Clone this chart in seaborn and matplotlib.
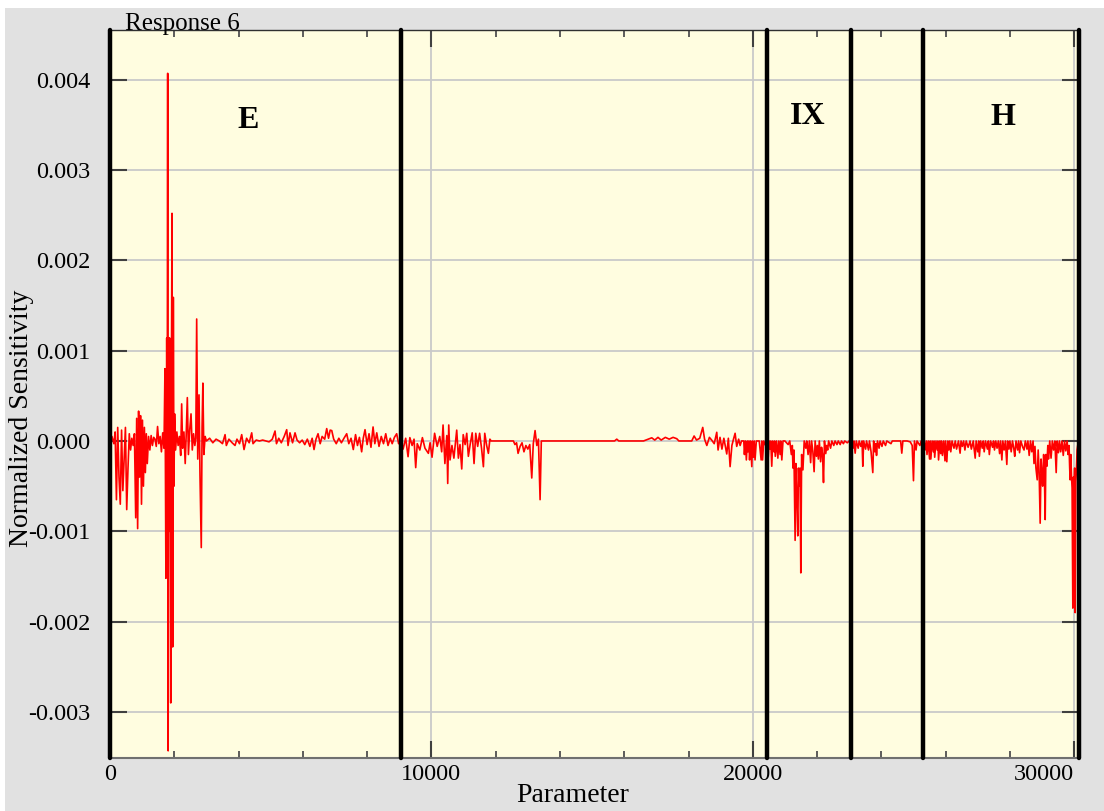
import numpy as np
import pandas as pd
import matplotlib
matplotlib.use("Agg")
import matplotlib.pyplot as plt
from matplotlib.patches import Rectangle
from matplotlib.ticker import MultipleLocator, FixedLocator
import seaborn as sns

# ---------------- data (parameter index, normalized sensitivity) ----------------
zone_E = [
    (0, 0.0), (60, 0.5e-4), (120, -0.3e-4), (160, 1.0e-4), (200, -6.5e-4), (240, 1.5e-4),
    (280, -4.0e-4), (320, -7.0e-4), (360, 1.2e-4), (400, -5.5e-4), (440, -2.0e-4), (480, 1.5e-4),
    (520, -7.6e-4), (560, -3.0e-4), (600, 0.8e-4), (640, -1.0e-4), (680, 0.3e-4), (720, -0.5e-4),
    (760, 0.8e-4), (800, -8.5e-4), (830, 2.5e-4), (860, -9.7e-4), (890, 3.3e-4), (920, -4.0e-4),
    (950, 2.8e-4), (980, -7.0e-4), (1010, 2.3e-4), (1040, -5.0e-4), (1070, 1.5e-4), (1100, -3.5e-4),
    (1130, 0.8e-4), (1160, -2.5e-4), (1200, 0.5e-4), (1240, -1.0e-4), (1280, 0.6e-4), (1320, -0.5e-4),
    (1360, 0.4e-4), (1400, 0.2e-4), (1440, -0.6e-4), (1480, 1.6e-4), (1520, -0.3e-4), (1560, 0.5e-4),
    (1600, -1.2e-4), (1640, 0.9e-4), (1680, -0.8e-4), (1710, 8.0e-4), (1740, -15.2e-4), (1765, 11.4e-4),
    (1780, -3.0e-4), (1795, 40.7e-4), (1810, -34.3e-4), (1825, 11.4e-4), (1840, -10.0e-4), (1855, 11.4e-4),
    (1870, 2.0e-4), (1890, -29.0e-4), (1910, 6.0e-4), (1930, 25.2e-4), (1950, -22.8e-4), (1970, 15.9e-4),
    (1990, -5.0e-4), (2010, 3.0e-4), (2040, -1.0e-4), (2080, 1.0e-4), (2120, -0.5e-4), (2160, 0.5e-4),
    (2200, -1.6e-4), (2230, 4.1e-4), (2260, -0.8e-4), (2300, 1.0e-4), (2340, -2.5e-4), (2370, 0.6e-4),
    (2406, 4.8e-4), (2440, -1.5e-4), (2480, 1.2e-4), (2521, 3.0e-4), (2560, -1.0e-4), (2600, 0.8e-4),
    (2640, -0.5e-4), (2670, 0.3e-4), (2697, 13.5e-4), (2730, -2.0e-4), (2770, 5.1e-4), (2800, -3.8e-4),
    (2840, -11.8e-4), (2865, 1.5e-4), (2890, 6.4e-4), (2920, -1.5e-4), (2960, 0.5e-4), (3000, 0.0),
    (3100, 0.3e-4), (3200, -0.2e-4), (3300, 0.2e-4), (3400, 0.0), (3500, -0.3e-4), (3580, 0.7e-4),
    (3620, -0.5e-4), (3700, 0.2e-4), (3800, -0.2e-4), (3890, -0.5e-4), (3950, 0.2e-4), (4030, -0.3e-4),
    (4098, 0.7e-4), (4170, -0.95e-4), (4250, 0.3e-4), (4330, -0.2e-4), (4409, 0.9e-4), (4450, -0.3e-4),
    (4550, 0.1e-4), (4650, 0.0), (4750, 0.1e-4), (4850, 0.0), (4950, -0.1e-4), (5050, 0.2e-4),
    (5135, 1.1e-4), (5180, -0.3e-4), (5250, 0.3e-4), (5330, -0.2e-4), (5420, 0.5e-4), (5498, 1.25e-4),
    (5540, -0.5e-4), (5600, 0.9e-4), (5680, -0.2e-4), (5757, 0.9e-4), (5820, 0.1e-4), (5900, -0.2e-4),
    (5980, 0.1e-4), (6060, -0.4e-4), (6140, 0.2e-4), (6220, -0.6e-4), (6290, 0.3e-4), (6348, -0.95e-4),
    (6410, 0.2e-4), (6473, 0.8e-4), (6540, -0.3e-4), (6600, 0.5e-4), (6680, 0.2e-4), (6743, 1.37e-4),
    (6800, 0.3e-4), (6850, 1.2e-4), (6900, 1.15e-4), (6960, 0.2e-4), (7040, -0.3e-4), (7120, 0.3e-4),
    (7200, -0.2e-4), (7280, 0.3e-4), (7365, 0.8e-4), (7430, -0.3e-4), (7500, 0.3e-4), (7570, -0.95e-4),
    (7640, 0.7e-4), (7700, -0.5e-4), (7760, 0.4e-4), (7830, -1.2e-4), (7880, 0.3e-4), (7935, 1.25e-4),
    (8000, -0.4e-4), (8060, 0.8e-4), (8120, -0.7e-4), (8185, 1.55e-4), (8240, -0.3e-4), (8300, 0.9e-4),
    (8370, -0.6e-4), (8440, 0.5e-4), (8510, -0.3e-4), (8580, 0.8e-4), (8650, -0.5e-4), (8720, 0.3e-4),
    (8780, -0.3e-4), (8850, 0.4e-4), (8920, 0.8e-4), (8980, -0.3e-4), (9050, 0.2e-4),
]

zone_mid = [
    (9120, -0.9e-4), (9200, 0.3e-4), (9274, -1.74e-4), (9330, 0.37e-4), (9400, -0.5e-4), (9460, 0.2e-4),
    (9512, -2.95e-4), (9560, -0.3e-4), (9640, -1.0e-4), (9720, 0.37e-4), (9800, -0.8e-4), (9906, -1.37e-4),
    (9960, -0.2e-4), (10020, -1.8e-4), (10100, 0.85e-4), (10180, -0.6e-4), (10260, 0.5e-4), (10320, -1.2e-4),
    (10363, 1.77e-4), (10420, -2.5e-4), (10480, 0.6e-4), (10508, -4.7e-4), (10540, 1.77e-4), (10580, -2.1e-4),
    (10640, -0.5e-4), (10700, -1.9e-4), (10788, 1.2e-4), (10840, -1.9e-4), (10890, -0.4e-4), (10944, -3.1e-4),
    (10990, 0.7e-4), (11050, -0.4e-4), (11100, 0.85e-4), (11150, -1.7e-4), (11210, -0.3e-4), (11270, 0.9e-4),
    (11327, -2.5e-4), (11380, 0.85e-4), (11440, -0.6e-4), (11500, 0.85e-4), (11560, -0.8e-4), (11618, -2.85e-4),
    (11660, 0.85e-4), (11720, -0.5e-4), (11773, -1.37e-4), (11820, 0.2e-4), (11860, 0.0), (12000, 0.0),
    (12200, 0.0), (12400, 0.0), (12552, 0.0), (12600, -0.4e-4), (12650, -0.2e-4), (12697, -1.37e-4),
    (12760, -0.6e-4), (12820, -0.2e-4), (12880, -1.2e-4), (12940, -0.5e-4), (13000, -0.9e-4), (13060, -0.4e-4),
    (13123, -4.1e-4), (13170, -0.3e-4), (13226, 1.15e-4), (13280, -0.5e-4), (13330, 0.2e-4), (13382, -6.5e-4),
    (13420, 0.0), (13600, 0.0), (14000, 0.0), (14500, 0.0), (15000, 0.0), (15500, 0.0),
    (15700, 0.0), (15768, 0.2e-4), (15830, 0.0), (16200, 0.0), (16600, 0.0), (16857, 0.35e-4),
    (16950, 0.1e-4), (17050, 0.4e-4), (17150, 0.1e-4), (17280, 0.4e-4), (17400, 0.2e-4), (17520, 0.4e-4),
    (17635, 0.25e-4), (17700, 0.0), (17900, 0.0), (18100, 0.0), (18174, 0.55e-4), (18250, 0.1e-4),
    (18350, 0.3e-4), (18443, 1.5e-4), (18500, 0.2e-4), (18570, -0.5e-4), (18650, 0.4e-4), (18720, 0.1e-4),
    (18800, -0.3e-4), (18879, 0.96e-4), (18920, -1.0e-4), (18980, 0.4e-4), (19040, -0.9e-4), (19100, 0.3e-4),
    (19150, -0.7e-4), (19190, -1.44e-4), (19240, 0.3e-4), (19294, -2.84e-4), (19350, -0.5e-4), (19400, 0.2e-4),
    (19450, 0.85e-4), (19500, -0.6e-4), (19560, 0.2e-4), (19606, -0.5e-4), (19650, 0.0), (19720, 0.0),
    (19740, -1.5e-4), (19770, 0.0), (19800, -2.1e-4), (19830, 0.0), (19850, -1.2e-4), (19880, 0.0),
    (19900, -2.1e-4), (19930, 0.0), (19969, -2.84e-4), (19990, 0.0), (20020, -1.8e-4), (20045, 0.0),
    (20070, -2.1e-4), (20110, 0.0), (20200, 0.0), (20260, -2.1e-4), (20280, 0.0), (20305, -2.1e-4),
    (20340, 0.0), (20400, -0.5e-4),
]

zone_IX = [
    (20440, 0.0), (20480, -1.8e-4), (20510, 0.0), (20540, -0.9e-4), (20560, 0.0), (20590, -2.8e-4),
    (20620, 0.0), (20660, -1.2e-4), (20680, 0.0), (20700, -1.7e-4), (20740, 0.0), (20780, -1.9e-4),
    (20810, 0.0), (20850, -1.5e-4), (20870, 0.0), (20903, -2.1e-4), (20940, 0.0), (21000, 0.0),
    (21100, -0.4e-4), (21150, 0.0), (21200, -1.5e-4), (21230, -0.5e-4), (21250, -3.0e-4), (21280, -1.0e-4),
    (21317, -11.0e-4), (21340, -2.5e-4), (21370, -6.0e-4), (21400, -10.5e-4), (21420, -3.0e-4), (21440, -5.0e-4),
    (21470, -3.0e-4), (21494, -14.6e-4), (21520, -1.5e-4), (21560, -3.2e-4), (21600, 0.0), (21650, -0.8e-4),
    (21680, 0.0), (21720, -1.5e-4), (21760, 0.0), (21800, -2.4e-4), (21830, 0.0), (21870, -1.2e-4),
    (21908, -3.4e-4), (21940, 0.0), (21980, -1.7e-4), (22010, -0.5e-4), (22040, -2.0e-4), (22070, 0.0),
    (22110, -2.3e-4), (22140, -0.7e-4), (22170, -1.5e-4), (22200, -4.6e-4), (22230, 0.0), (22270, -1.4e-4),
    (22300, -0.5e-4), (22330, -1.0e-4), (22360, 0.0), (22420, -0.8e-4), (22460, 0.0), (22520, -0.5e-4),
    (22560, 0.0), (22620, -0.4e-4), (22660, 0.0), (22720, -0.4e-4), (22760, 0.0), (22820, -0.3e-4),
    (22860, 0.0), (22940, -0.2e-4), (23000, 0.0),
    (23090, 0.0), (23120, -0.8e-4), (23150, 0.0), (23185, -1.35e-4), (23220, 0.0), (23280, -0.8e-4),
    (23310, 0.0), (23360, -0.6e-4), (23400, 0.0), (23423, -2.8e-4), (23450, 0.0), (23510, -0.9e-4),
    (23540, 0.0), (23600, -1.0e-4), (23630, 0.0), (23680, -1.2e-4), (23734, -3.5e-4), (23760, 0.0),
    (23800, -1.2e-4), (23830, -0.3e-4), (23850, -1.6e-4), (23880, 0.0), (23930, -0.8e-4), (23960, 0.0),
    (24020, -0.6e-4), (24060, 0.0), (24130, -0.5e-4), (24170, 0.0), (24300, -0.3e-4), (24340, 0.0),
    (24500, 0.0), (24600, 0.0), (24636, -1.35e-4), (24670, 0.0), (24800, 0.0), (24900, -0.1e-4),
    (24960, -0.5e-4), (25000, -4.4e-4), (25030, 0.0), (25080, -1.0e-4), (25110, 0.0), (25200, -0.5e-4),
    (25240, 0.0), (25300, 0.0),
]

zone_H = [
    (25330, 0.0), (25360, -1.0e-4), (25400, 0.0), (25420, -1.5e-4), (25460, 0.0), (25500, -2.0e-4),
    (25520, 0.0), (25540, -2.0e-4), (25580, 0.0), (25620, -1.2e-4), (25640, 0.0), (25660, -1.8e-4),
    (25700, 0.0), (25740, -1.0e-4), (25760, 0.0), (25780, -2.1e-4), (25820, 0.0), (25850, -1.4e-4),
    (25870, 0.0), (25900, -1.6e-4), (25940, 0.0), (25980, -2.2e-4), (26000, 0.0), (26037, -2.3e-4),
    (26070, 0.0), (26100, -1.0e-4), (26130, 0.0), (26160, -1.2e-4), (26200, 0.0), (26260, -0.8e-4),
    (26300, 0.0), (26340, -0.9e-4), (26400, 0.0), (26450, -1.35e-4), (26480, 0.0), (26520, -0.6e-4),
    (26560, 0.0), (26600, -1.0e-4), (26640, 0.0), (26700, -0.7e-4), (26760, 0.0), (26800, -0.9e-4),
    (26860, 0.0), (26920, -1.9e-4), (26950, 0.0), (27000, -1.2e-4), (27030, 0.0), (27050, -1.7e-4),
    (27090, 0.0), (27140, -0.8e-4), (27170, 0.0), (27200, -1.2e-4), (27240, 0.0), (27300, -0.9e-4),
    (27330, 0.0), (27360, -1.5e-4), (27400, 0.0), (27460, -0.7e-4), (27490, 0.0), (27520, -1.0e-4),
    (27560, 0.0), (27600, -0.8e-4), (27640, 0.0), (27680, -1.4e-4), (27710, 0.0), (27750, -2.1e-4),
    (27780, 0.0), (27820, -1.0e-4), (27860, 0.0), (27904, -2.6e-4), (27930, 0.0), (27970, -0.9e-4),
    (28000, 0.0), (28040, -1.2e-4), (28080, 0.0), (28120, -0.8e-4), (28150, -1.7e-4), (28190, 0.0),
    (28240, -1.0e-4), (28270, 0.0), (28300, -1.3e-4), (28340, 0.0), (28400, -0.7e-4), (28440, -1.0e-4),
    (28480, 0.0), (28530, -0.9e-4), (28560, 0.0), (28600, -1.6e-4), (28640, 0.0), (28680, -1.2e-4),
    (28720, 0.0), (28750, -2.5e-4), (28780, -0.6e-4), (28810, -3.0e-4), (28850, -4.3e-4), (28880, -1.0e-4),
    (28910, -3.5e-4), (28942, -9.1e-4), (28970, -2.0e-4), (29000, -4.0e-4), (29020, -5.0e-4), (29050, -1.5e-4),
    (29070, -3.0e-4), (29098, -8.7e-4), (29120, -1.5e-4), (29150, -2.8e-4), (29180, -0.5e-4), (29200, -2.0e-4),
    (29240, 0.0), (29280, -1.9e-4), (29320, 0.0), (29360, -1.0e-4), (29400, 0.0), (29440, -3.5e-4),
    (29470, 0.0), (29510, -1.3e-4), (29540, 0.0), (29580, -1.2e-4), (29620, 0.0), (29660, -1.6e-4),
    (29700, 0.0), (29740, -1.1e-4), (29780, 0.0), (29810, -1.5e-4), (29840, -0.5e-4), (29860, -3.0e-4),
    (29875, -4.3e-4), (29895, -1.5e-4), (29915, -3.8e-4), (29935, -5.2e-4), (29958, -18.5e-4), (29975, -4.0e-4),
    (29995, -6.0e-4), (30015, -3.0e-4), (30031, -19.0e-4), (30050, -4.5e-4), (30070, -3.2e-4), (30090, -1.0e-4),
    (30110, -0.5e-4), (30140, 0.0),
]

boundaries = [0, 9050, 20430, 23060, 25300, 30150]
region_labels = ["E", "IX", "H"]
region_label_x = [4300, 21720, 27790]
region_label_y = [0.00355, 0.00359, 0.00358]
y_ticks = [-0.003, -0.002, -0.001, 0.000, 0.001, 0.002, 0.003, 0.004]
x_ticks = [0, 10000, 20000, 30000]

# ---------------- build frame ----------------
points = zone_E + zone_mid + zone_IX + zone_H
df = pd.DataFrame(points, columns=["Parameter", "Sensitivity"])

# ---------------- figure ----------------
sns.set_style("ticks")
plt.rcParams["font.family"] = ["Liberation Serif", "DejaVu Serif"]

fig = plt.figure(figsize=(11.04, 8.11), dpi=100, facecolor="#E1E1E1")
fig.patches.append(Rectangle((0, 1 - 8 / 811), 1, 8 / 811, transform=fig.transFigure,
                             facecolor="white", edgecolor="none", zorder=0))
fig.patches.append(Rectangle((0, 0), 5 / 1104, 1, transform=fig.transFigure,
                             facecolor="white", edgecolor="none", zorder=0))

ax = fig.add_axes([110 / 1104, 1 - 758 / 811, (1079 - 110) / 1104, (758 - 30) / 811])
ax.set_facecolor("#FFFDE0")

sns.lineplot(data=df, x="Parameter", y="Sensitivity", ax=ax, color="#FF0000",
             linewidth=1.2, estimator=None, errorbar=None, sort=False, zorder=3)

ax.set_xlim(0, 30150)
ax.set_ylim(-0.00351, 0.00455)

ax.xaxis.set_major_locator(FixedLocator(x_ticks))
ax.xaxis.set_minor_locator(MultipleLocator(2000))
ax.yaxis.set_major_locator(FixedLocator(y_ticks))
ax.set_yticklabels([f"{v:.3f}" for v in y_ticks])
ax.set_xticklabels([str(v) for v in x_ticks])

ax.set_axisbelow(True)
ax.grid(True, which="major", color="#C9C9C9", linewidth=1.3)

ax.tick_params(axis="both", which="major", direction="in", length=12, width=1.5,
               color="#404040", labelsize=17.5, labelcolor="black",
               top=True, right=True)
ax.tick_params(axis="x", which="major", pad=4)
ax.tick_params(axis="y", which="major", pad=14)
ax.tick_params(axis="x", which="minor", direction="in", length=5, width=1.3,
               color="#505050", top=True, bottom=True)

for lbl in ax.get_xticklabels():
    if lbl.get_text() == "30000":
        lbl.set_horizontalalignment("right")

for side in ("left", "right"):
    ax.spines[side].set_visible(False)
ax.spines["bottom"].set_color("#707070")
ax.spines["bottom"].set_linewidth(1.5)
ax.spines["top"].set_color("#303030")
ax.spines["top"].set_linewidth(1.0)

for b in boundaries:
    ax.axvline(b, color="black", linewidth=3.2, zorder=5, clip_on=False)

for lab, lx, ly in zip(region_labels, region_label_x, region_label_y):
    ax.text(lx, ly, lab, ha="center", va="center", fontsize=23, fontweight="bold",
            color="black", zorder=6)

ax.set_xlabel("")
ax.set_ylabel("")
fig.text(125 / 1104, 1 - 30 / 811, "Response 6", ha="left", va="baseline",
         fontsize=18, color="black", zorder=10)
fig.text(22 / 1104, 1 - 418 / 811, "Normalized Sensitivity", rotation=90,
         ha="center", va="center", fontsize=20, color="black")
fig.text(573 / 1104, 1 - 795 / 811, "Parameter", ha="center", va="center",
         fontsize=20, color="black")

fig.savefig("out.png", dpi=100, facecolor=fig.get_facecolor())
